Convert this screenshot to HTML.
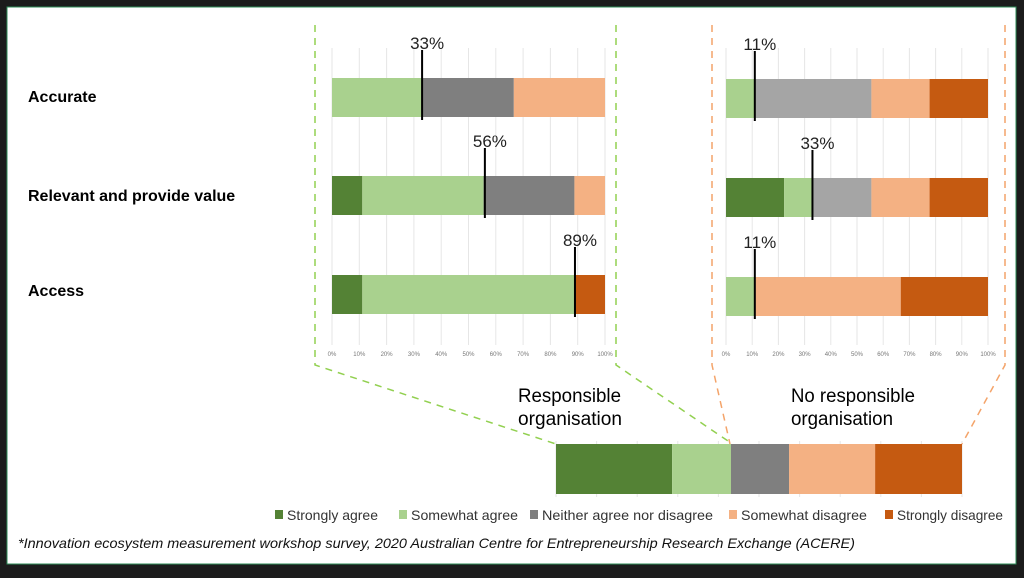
<!DOCTYPE html>
<html><head><meta charset="utf-8"><style>
html,body{margin:0;padding:0;background:#1c1c1c;width:1024px;height:578px;overflow:hidden}
svg{display:block;font-family:"Liberation Sans",sans-serif}
</style></head><body>
<svg id="chart" width="1024" height="578">
<rect x="0" y="0" width="1024" height="578" fill="#1c1c1c"/>
<rect x="7" y="7" width="1009" height="557" fill="#fff" stroke="#2e8b57" stroke-width="1"/>
<g id="grid"></g><g id="bars"></g><g id="marks"></g><g id="labels"></g>
<g stroke-dasharray="7,6" stroke-width="1.5" fill="none">
<polyline points="315,25 315,365 556,444" stroke="#92d050"/>
<polyline points="616,25 616,365 728,441" stroke="#92d050"/>
<polyline points="712,25 712,365 730,444" stroke="#f4a46a"/>
<polyline points="1005,25 1005,365 962,444" stroke="#f4a46a"/>
</g>
<g font-size="16" fill="#000" font-weight="bold">
<text x="28" y="102">Accurate</text>
<text x="28" y="201">Relevant and provide value</text>
<text x="28" y="296">Access</text>
</g>
<g font-size="19" fill="#000">
<text x="518" y="402" textLength="103" lengthAdjust="spacingAndGlyphs">Responsible</text>
<text x="518" y="425" textLength="104" lengthAdjust="spacingAndGlyphs">organisation</text>
<text x="791" y="402" textLength="124" lengthAdjust="spacingAndGlyphs">No responsible</text>
<text x="791" y="425" textLength="102" lengthAdjust="spacingAndGlyphs">organisation</text>
</g>
<g id="legend" font-size="14" fill="#333"></g>
<text x="18" y="548" font-size="14" font-style="italic" fill="#111" textLength="837" lengthAdjust="spacingAndGlyphs">*Innovation ecosystem measurement workshop survey, 2020 Australian Centre for Entrepreneurship Research Exchange (ACERE)</text>
</svg>
<script>
const categories = ["Strongly agree","Somewhat agree","Neither agree nor disagree","Somewhat disagree","Strongly disagree"];
const rows = ["Accurate","Relevant and provide value","Access"];
const respValues = [[0,33.3,33.3,33.4,0],[11.1,44.4,33.3,11.2,0],[11.1,77.8,0,0,11.1]];
const respMarkers = [33,56,89];
const noRespValues = [[0,11.1,44.4,22.2,22.3],[22.2,11.1,22.2,22.2,22.3],[0,11.1,0,55.6,33.3]];
const noRespMarkers = [11,33,11];
const summaryValues = [28.6,14.5,14.3,21.2,21.4];
const ticks = [0,10,20,30,40,50,60,70,80,90,100];
const colorsResp = ["#548235","#a9d18e","#7f7f7f","#f4b183","#c55a11"];
const colorsNo = ["#548235","#a9d18e","#a5a5a5","#f4b183","#c55a11"];
const NS="http://www.w3.org/2000/svg";
function mk(tag,attrs,parent,txt){const e=document.createElementNS(NS,tag);for(const k in attrs)e.setAttribute(k,attrs[k]);if(txt!==undefined)e.textContent=txt;parent.appendChild(e);return e;}
const G=document.getElementById('grid'),B=document.getElementById('bars'),M=document.getElementById('marks'),L=document.getElementById('labels');
function panel(x0,x1,rowY,values,markers,colors,name){
  const xs=v=>x0+(x1-x0)*v/100;
  ticks.forEach(t=>{
    const l=mk('line',{x1:xs(t),x2:xs(t),y1:48,y2:345,stroke:'#e6e6e6','stroke-width':1},G);
    
    
    const tx=mk('text',{x:xs(t),y:356,'font-size':6,'text-anchor':'middle',fill:'#777'},G,t+'%');
    
    
  });
  values.forEach((vals,i)=>{
    let c=0;const y=rowY[i];
    vals.forEach((v,j)=>{
      if(v>0){const r=mk('rect',{x:xs(c),y:y,width:xs(c+v)-xs(c),height:39,fill:colors[j]},B);
      
      }
      c+=v;
    });
    const mx=xs(markers[i]);
    const ln=mk('line',{x1:mx,x2:mx,y1:y-28,y2:y+42,stroke:'#000','stroke-width':2},M);
    
    
    const lt=mk('text',{x:mx+5,y:y-29,'font-size':17,'text-anchor':'middle',fill:'#222'},L,markers[i]+'%');
    
    
  });
}
panel(332,605,[78,176,275],respValues,respMarkers,colorsResp,'responsible');
panel(726,988,[79,178,277],noRespValues,noRespMarkers,colorsNo,'no-responsible');
(function(){const x0=556,x1=962,xs=v=>x0+(x1-x0)*v/100;let c=0;
 ticks.forEach(t=>{const l=mk('line',{x1:xs(t),x2:xs(t),y1:441,y2:497,stroke:'#e6e6e6'},G);
  
  });
 summaryValues.forEach((v,j)=>{const r=mk('rect',{x:xs(c),y:444,width:xs(c+v)-xs(c),height:50,fill:colorsResp[j]},B);
  
  c+=v;});
})();
const Lg=document.getElementById('legend');
const legX=[275,399,530,729,885];
const legW=[91,107,171,126,106];
categories.forEach((cat,i)=>{
  const g=mk('g',{},Lg);
  
  
  mk('rect',{x:legX[i],y:510,width:8,height:9,fill:colorsResp[i]},g);
  mk('text',{x:legX[i]+12,y:520,textLength:legW[i],lengthAdjust:'spacingAndGlyphs'},g,cat);
});
</script>
</body></html>
